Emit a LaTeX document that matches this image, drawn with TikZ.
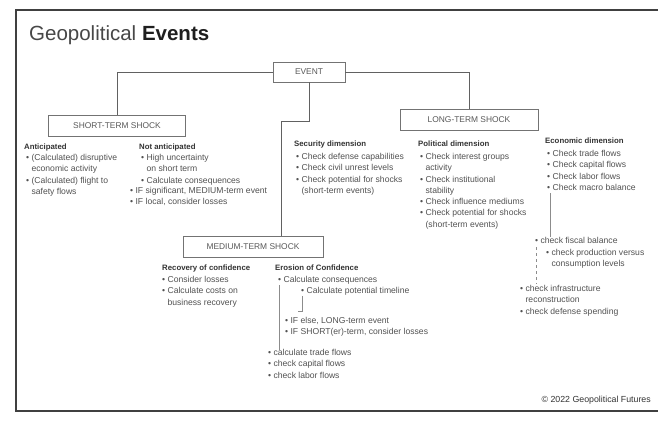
\documentclass[tikz,border=0pt]{standalone}
\usepackage{fontspec}
\setmainfont{Liberation Sans}
\begin{document}
\begin{tikzpicture}[x=1pt,y=-1pt,
  txt/.style={inner sep=0pt, anchor=north west, align=left, text=black!68,
    font=\fontsize{8.6}{11.3}\selectfont},
  head/.style={inner sep=0pt, anchor=west, text=black!80,
    font=\fontsize{7.8}{9}\selectfont\bfseries},
  shock/.style={draw=black!55, line width=0.8pt, fill=white, inner sep=0pt,
    minimum height=21pt, text=black!65, font=\fontsize{8.4}{9}\selectfont},
  link/.style={draw=black!62, line width=0.9pt},
  thin/.style={draw=black!45, line width=0.6pt}]
\useasboundingbox (0,0) rectangle (658,421);
\fill[white] (0,0) rectangle (658,421);
% frame
\draw[black!75, line width=1.2pt] (658,10) -- (16,10) -- (16,411) -- (658,411);

% title
\node[inner sep=0pt, anchor=west, text=black!72, font=\fontsize{20.5}{22}\selectfont] (title) at (29,35)
  {Geopolitical \textcolor{black!88}{\textbf{Events}}};

% boxes
\node[shock, minimum width=72pt, minimum height=20pt] (event) at (309,72) {EVENT};
\node[shock, minimum width=137pt] (short) at (117,126) {SHORT-TERM SHOCK};
\node[shock, minimum width=138pt] (long) at (469,120) {LONG-TERM SHOCK};
\node[shock, minimum width=140pt] (medium) at (253,246.5) {MEDIUM-TERM SHOCK};

% connectors
\coordinate (mbend) at (281,121);
\draw[link] (event.west) -| (short.north);
\draw[link] (event.east) -| (long.north);
\draw[link] (event.south) |- (mbend) -- (mbend |- medium.north);

% short-term
\node[head] (ant) at (24,147) {Anticipated};
\node[txt] (antl) at (26,154) {\textbullet\ (Calculated) disruptive\\
\hphantom{\textbullet\ }economic activity\\
\textbullet\ (Calculated) flight to\\
\hphantom{\textbullet\ }safety flows};
\node[head] (nant) at (139,147) {Not anticipated};
\node[txt] (nantl) at (141,154) {\textbullet\ High uncertainty\\
\hphantom{\textbullet\ }on short term\\
\textbullet\ Calculate consequences};
\node[txt] (nantif) at (130,187) {\textbullet\ IF significant, MEDIUM-term event\\
\textbullet\ IF local, consider losses};

% long-term
\node[head] (sec) at (294,144) {Security dimension};
\node[txt] (secl) at (296,153) {\textbullet\ Check defense capabilities\\
\textbullet\ Check civil unrest levels\\
\textbullet\ Check potential for shocks\\
\hphantom{\textbullet\ }(short-term events)};
\node[head] (pol) at (418,144) {Political dimension};
\node[txt] (poll) at (420,153) {\textbullet\ Check interest groups\\
\hphantom{\textbullet\ }activity\\
\textbullet\ Check institutional\\
\hphantom{\textbullet\ }stability\\
\textbullet\ Check influence mediums\\
\textbullet\ Check potential for shocks\\
\hphantom{\textbullet\ }(short-term events)};
\node[head] (eco) at (545,141) {Economic dimension};
\node[txt] (ecol) at (547,150) {\textbullet\ Check trade flows\\
\textbullet\ Check capital flows\\
\textbullet\ Check labor flows\\
\textbullet\ Check macro balance};
\node[txt] (fisc) at (535,237) {\textbullet\ check fiscal balance};
\node[txt] (prod) at (546,249) {\textbullet\ check production versus\\
\hphantom{\textbullet\ }consumption levels};
\node[txt] (infra) at (520,285) {\textbullet\ check infrastructure\\
\hphantom{\textbullet\ }reconstruction\\
\textbullet\ check defense spending};
\draw[thin] (550,193) -- (550,237);
\draw[thin, dashed] (536,247) -- (536,284);

% medium-term
\node[head] (rec) at (162,268) {Recovery of confidence};
\node[txt] (recl) at (162,276) {\textbullet\ Consider losses\\
\textbullet\ Calculate costs on\\
\hphantom{\textbullet\ }business recovery};
\node[head] (ero) at (275,268) {Erosion of Confidence};
\node[txt] (cons) at (278,276) {\textbullet\ Calculate consequences};
\node[txt] (time) at (301,287) {\textbullet\ Calculate potential timeline};
\node[txt] (ifl) at (285,317) {\textbullet\ IF else, LONG-term event\\
\textbullet\ IF SHORT(er)-term, consider losses};
\node[txt] (flows) at (268,349) {\textbullet\ calculate trade flows\\
\textbullet\ check capital flows\\
\textbullet\ check labor flows};
\draw[thin] (279,285) -- (279,350);
\draw[thin] (302,296) -- (302,311) -- (298,311);

% footer
\node[inner sep=0pt, anchor=east, text=black!80, font=\fontsize{8.8}{10}\selectfont] (foot) at (651,400)
  {\textcopyright\ 2022 Geopolitical Futures};
\end{tikzpicture}
\end{document}
